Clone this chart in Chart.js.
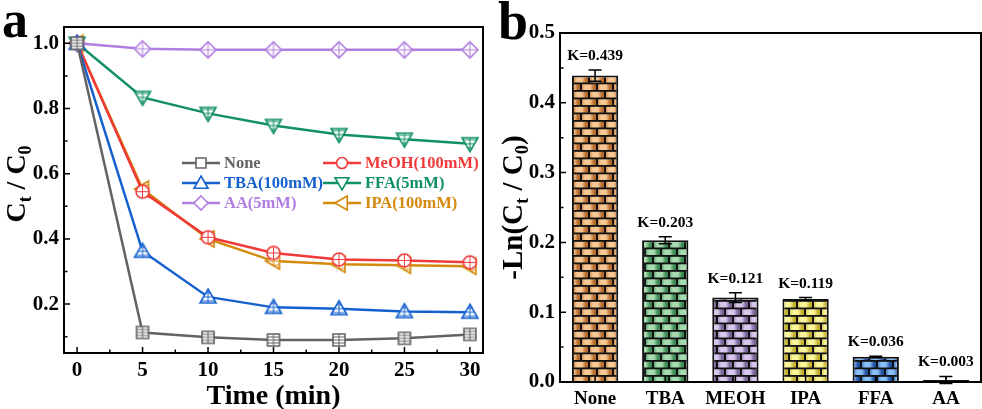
<!DOCTYPE html>
<html><head><meta charset="utf-8">
<script src="https://cdn.jsdelivr.net/npm/chart.js@4.4.1/dist/chart.umd.min.js"></script>
<style>
body{margin:0;background:#fff;width:982px;height:409px;overflow:hidden;position:relative}
#wa{position:absolute;left:0;top:0;width:500px;height:409px}
#wb{position:absolute;left:492px;top:0;width:490px;height:409px}
</style></head><body>
<div id="wa"><canvas id="ca"></canvas></div>
<div id="wb"><canvas id="cb"></canvas></div>
<script>
// panel a: Ct/C0 vs time
const times = [0, 5, 10, 15, 20, 25, 30];
const none = [1.0, 0.113, 0.098, 0.090, 0.090, 0.095, 0.107];
const meoh = [1.0, 0.545, 0.405, 0.357, 0.337, 0.334, 0.328];
const tba  = [1.0, 0.362, 0.222, 0.190, 0.186, 0.177, 0.175];
const ffa  = [1.0, 0.834, 0.785, 0.748, 0.720, 0.706, 0.692];
const aa   = [1.0, 0.983, 0.980, 0.980, 0.980, 0.980, 0.980];
const ipa  = [1.0, 0.553, 0.400, 0.332, 0.322, 0.319, 0.316];
const xTicksA = [0, 5, 10, 15, 20, 25, 30];
const yTicksA = [0.2, 0.4, 0.6, 0.8, 1.0];

// panel b: rate constants
const scavengers = ['None', 'TBA', 'MEOH', 'IPA', 'FFA', 'AA'];
const kValues = [0.439, 0.203, 0.121, 0.119, 0.036, 0.003];
const kErrors = [0.008, 0.005, 0.007, 0.002, 0.001, 0.005];
const yTicksB = [0.0, 0.1, 0.2, 0.3, 0.4, 0.5];

const SERIF = '"Liberation Serif", "Times New Roman", serif';
const f = s => 'bold ' + s + 'px ' + SERIF;

function markerPath(ctx, shape, x, y, r) {
    ctx.beginPath();
    if (shape === 'rect') ctx.rect(x - r, y - r, 2 * r, 2 * r);
    else if (shape === 'circle') ctx.arc(x, y, r, 0, Math.PI * 2);
    else if (shape === 'triUp') { ctx.moveTo(x, y - r); ctx.lineTo(x + r, y + r * 0.75); ctx.lineTo(x - r, y + r * 0.75); ctx.closePath(); }
    else if (shape === 'triDown') { ctx.moveTo(x, y + r); ctx.lineTo(x + r, y - r * 0.75); ctx.lineTo(x - r, y - r * 0.75); ctx.closePath(); }
    else if (shape === 'triLeft') { ctx.moveTo(x - r, y); ctx.lineTo(x + r * 0.75, y - r); ctx.lineTo(x + r * 0.75, y + r); ctx.closePath(); }
    else if (shape === 'diamond') { ctx.moveTo(x, y - r); ctx.lineTo(x + r, y); ctx.lineTo(x, y + r); ctx.lineTo(x - r, y); ctx.closePath(); }
}

function drawMarker(ctx, shape, x, y, r, color, hatch) {
    ctx.save();
    markerPath(ctx, shape, x, y, r);
    ctx.fillStyle = '#fff';
    ctx.fill();
    if (hatch) {
        ctx.save();
        ctx.clip();
        ctx.strokeStyle = color;
        ctx.lineWidth = 1;
        ctx.beginPath();
        ctx.moveTo(x, y - r); ctx.lineTo(x, y + r);
        ctx.moveTo(x - r, y); ctx.lineTo(x + r, y);
        if (shape !== 'diamond' && shape !== 'circle') {
            ctx.moveTo(x - r, y + r / 2); ctx.lineTo(x + r, y + r / 2);
            ctx.moveTo(x - r, y - r / 2); ctx.lineTo(x + r, y - r / 2);
        }
        ctx.stroke();
        ctx.restore();
        markerPath(ctx, shape, x, y, r);
    }
    ctx.strokeStyle = color;
    ctx.lineWidth = 1.6;
    ctx.stroke();
    ctx.restore();
}

function markerImage(shape, r, color) {
    const c = document.createElement('canvas');
    const s = Math.ceil(2 * r + 4);
    c.width = s; c.height = s;
    drawMarker(c.getContext('2d'), shape, s / 2, s / 2, r, color, true);
    return c;
}

const seriesA = [
    {label: 'None', data: none, color: '#636363', shape: 'rect', r: 6},
    {label: 'TBA(100mM)', data: tba, color: '#1560cf', shape: 'triUp', r: 8},
    {label: 'AA(5mM)', data: aa, color: '#b07ee0', shape: 'diamond', r: 8},
    {label: 'FFA(5mM)', data: ffa, color: '#119062', shape: 'triDown', r: 8},
    {label: 'MeOH(100mM)', data: meoh, color: '#f03a3a', shape: 'circle', r: 6.5},
    {label: 'IPA(100mM)', data: ipa, color: '#d48a0c', shape: 'triLeft', r: 8}
];
const legendOrder = ['None', 'MeOH(100mM)', 'TBA(100mM)', 'FFA(5mM)', 'AA(5mM)', 'IPA(100mM)'];

function drawRich(ctx, parts, x, y, size, rotate) {
    ctx.save();
    ctx.translate(x, y);
    if (rotate) ctx.rotate(-Math.PI / 2);
    let total = 0;
    parts.forEach(p => { ctx.font = f(p.sub ? size * 0.64 : size); total += ctx.measureText(p.t).width; });
    let cx = -total / 2;
    ctx.fillStyle = '#000';
    ctx.textBaseline = 'alphabetic';
    ctx.textAlign = 'left';
    parts.forEach(p => {
        ctx.font = f(p.sub ? size * 0.64 : size);
        ctx.fillText(p.t, cx, p.sub ? size * 0.22 : 0);
        cx += ctx.measureText(p.t).width;
    });
    ctx.restore();
}

function tickMarks(ctx, area, xs, ys, xMaj, xMin, yMaj, yMin) {
    ctx.strokeStyle = '#000';
    ctx.lineWidth = 1.5;
    ctx.beginPath();
    xMaj.forEach(v => { const p = xs.getPixelForValue(v); ctx.moveTo(p, area.bottom); ctx.lineTo(p, area.bottom - 6); });
    xMin.forEach(v => { const p = xs.getPixelForValue(v); ctx.moveTo(p, area.bottom); ctx.lineTo(p, area.bottom - 3.5); });
    yMaj.forEach(v => { const p = ys.getPixelForValue(v); ctx.moveTo(area.left, p); ctx.lineTo(area.left + 6, p); });
    yMin.forEach(v => { const p = ys.getPixelForValue(v); ctx.moveTo(area.left, p); ctx.lineTo(area.left + 3.5, p); });
    ctx.stroke();
    ctx.lineWidth = 2;
    ctx.strokeRect(area.left, area.top, area.right - area.left, area.bottom - area.top);
}

const panelA = {
    id: 'panelA',
    afterDraw(chart) {
        const ctx = chart.ctx, a = chart.chartArea;
        ctx.save();
        tickMarks(ctx, a, chart.scales.x, chart.scales.y,
            xTicksA, xTicksA.slice(1).map(v => v - 2.5), yTicksA, yTicksA.map(v => v - 0.1));
        drawRich(ctx, [{t: 'C'}, {t: 't', sub: true}, {t: ' / C'}, {t: '0', sub: true}], 25, (a.top + a.bottom) / 2 - 6, 28, true);
        ctx.font = f(28); ctx.fillStyle = '#000'; ctx.textAlign = 'center'; ctx.textBaseline = 'alphabetic';
        ctx.fillText('Time (min)', (a.left + a.right) / 2, 404);
        ctx.font = f(52); ctx.textAlign = 'left';
        ctx.fillText('a', 2, 37);
        // legend, two columns
        legendOrder.forEach((name, i) => {
            const s = seriesA.find(d => d.label === name);
            const lx = i % 2 === 0 ? 182 : 323, ly = 163 + Math.floor(i / 2) * 20;
            ctx.strokeStyle = s.color; ctx.lineWidth = 2.5;
            ctx.beginPath(); ctx.moveTo(lx, ly); ctx.lineTo(lx + 38, ly); ctx.stroke();
            drawMarker(ctx, s.shape, lx + 19, ly, s.r - 1, s.color, false);
            ctx.font = f(16.5); ctx.fillStyle = s.color; ctx.textBaseline = 'middle';
            ctx.fillText(name, lx + 42, ly + 1);
        });
        ctx.restore();
    }
};

new Chart(document.getElementById('ca'), {
    type: 'line',
    data: {
        datasets: seriesA.map(s => ({
            label: s.label,
            data: times.map((t, i) => ({x: t, y: s.data[i]})),
            borderColor: s.color,
            borderWidth: 2.5,
            tension: 0,
            pointStyle: markerImage(s.shape, s.r, s.color),
            pointRadius: 7
        }))
    },
    options: {
        responsive: true,
        maintainAspectRatio: false,
        animation: false,
        events: [],
        layout: {padding: {top: 27, right: 17, left: 0, bottom: 0}},
        plugins: {legend: {display: false}, tooltip: {enabled: false}},
        scales: {
            x: {
                type: 'linear', min: -1, max: 31,
                grid: {display: false, drawTicks: false}, border: {display: false},
                afterBuildTicks: s => { s.ticks = xTicksA.map(v => ({value: v})); },
                afterFit: s => { s.height = 56; },
                ticks: {font: {family: SERIF, weight: 'bold', size: 21}, color: '#000', padding: 5, maxRotation: 0}
            },
            y: {
                min: 0.05, max: 1.05,
                grid: {display: false, drawTicks: false}, border: {display: false},
                afterBuildTicks: s => { s.ticks = yTicksA.map(v => ({value: v})); },
                afterFit: s => { s.width = 64; },
                ticks: {font: {family: SERIF, weight: 'bold', size: 21}, color: '#000', padding: 5,
                    callback: v => v.toFixed(1)}
            }
        }
    },
    plugins: [panelA]
});

// brick pattern fills for the bars
function brickPattern(light, dark) {
    const w = 32, h = 15;
    const c = document.createElement('canvas');
    c.width = w; c.height = h;
    const g = c.getContext('2d');
    g.fillStyle = '#111';
    g.fillRect(0, 0, w, h);
    [[0, 0], [7.5, -8]].forEach(([y0, off]) => {
        for (let x0 = off; x0 < w; x0 += 16) {
            const gr = g.createLinearGradient(x0, 0, x0 + 14, 0);
            gr.addColorStop(0, dark); gr.addColorStop(0.35, light);
            gr.addColorStop(0.7, light); gr.addColorStop(1, dark);
            g.fillStyle = gr;
            g.fillRect(x0 + 2, y0 + 1.8, 14, 5.7);
        }
    });
    return g.createPattern(c, 'repeat');
}
const brickColors = [
    ['#f8c894', '#b86a2c'], ['#a6dcb0', '#3a8a52'], ['#d8c8ee', '#7a6498'],
    ['#fbf59c', '#c2b230'], ['#8cc0f8', '#1c50a0'], ['#e064c0', '#902070']
];

const panelB = {
    id: 'panelB',
    afterDatasetsDraw(chart) {
        const ctx = chart.ctx, ys = chart.scales.y;
        const bars = chart.getDatasetMeta(0).data;
        ctx.save();
        ctx.strokeStyle = '#000';
        ctx.lineWidth = 1.5;
        bars.forEach((b, i) => {
            const top = ys.getPixelForValue(kValues[i] + kErrors[i]);
            const bot = ys.getPixelForValue(kValues[i] - kErrors[i]);
            ctx.beginPath();
            ctx.moveTo(b.x, top); ctx.lineTo(b.x, bot);
            ctx.moveTo(b.x - 6.5, top); ctx.lineTo(b.x + 6.5, top);
            ctx.moveTo(b.x - 6.5, bot); ctx.lineTo(b.x + 6.5, bot);
            ctx.stroke();
            ctx.font = f(15.5); ctx.fillStyle = '#000';
            ctx.textAlign = 'center'; ctx.textBaseline = 'middle';
            ctx.fillText('K=' + kValues[i].toFixed(3), b.x, top - 14);
        });
        ctx.restore();
    },
    afterDraw(chart) {
        const ctx = chart.ctx, a = chart.chartArea;
        ctx.save();
        tickMarks(ctx, a, chart.scales.x, chart.scales.y,
            scavengers.map((c, i) => i), [], yTicksB, yTicksB.slice(1).map(v => v - 0.05));
        drawRich(ctx, [{t: '-Ln(C'}, {t: 't', sub: true}, {t: ' / C'}, {t: '0', sub: true}, {t: ')'}],
            30, (a.top + a.bottom) / 2, 29, true);
        ctx.font = f(54); ctx.fillStyle = '#000'; ctx.textAlign = 'left'; ctx.textBaseline = 'alphabetic';
        ctx.fillText('b', 6, 39);
        ctx.restore();
    }
};

new Chart(document.getElementById('cb'), {
    type: 'bar',
    data: {
        labels: scavengers,
        datasets: [{
            data: kValues,
            backgroundColor: brickColors.map(c => brickPattern(c[0], c[1])),
            borderColor: '#111',
            borderWidth: 2,
            categoryPercentage: 1,
            barPercentage: 0.66
        }]
    },
    options: {
        responsive: true,
        maintainAspectRatio: false,
        animation: false,
        events: [],
        layout: {padding: {top: 33, right: 1, left: 0, bottom: 0}},
        plugins: {legend: {display: false}, tooltip: {enabled: false}},
        scales: {
            x: {
                grid: {display: false, drawTicks: false}, border: {display: false},
                afterFit: s => { s.height = 27; },
                ticks: {font: {family: SERIF, weight: 'bold', size: 19}, color: '#000', padding: 6, maxRotation: 0}
            },
            y: {
                min: 0, max: 0.5,
                grid: {display: false, drawTicks: false}, border: {display: false},
                afterBuildTicks: s => { s.ticks = yTicksB.map(v => ({value: v})); },
                afterFit: s => { s.width = 68; },
                ticks: {font: {family: SERIF, weight: 'bold', size: 21}, color: '#000', padding: 5,
                    callback: v => v.toFixed(1)}
            }
        }
    },
    plugins: [panelB]
});
</script>
</body></html>
